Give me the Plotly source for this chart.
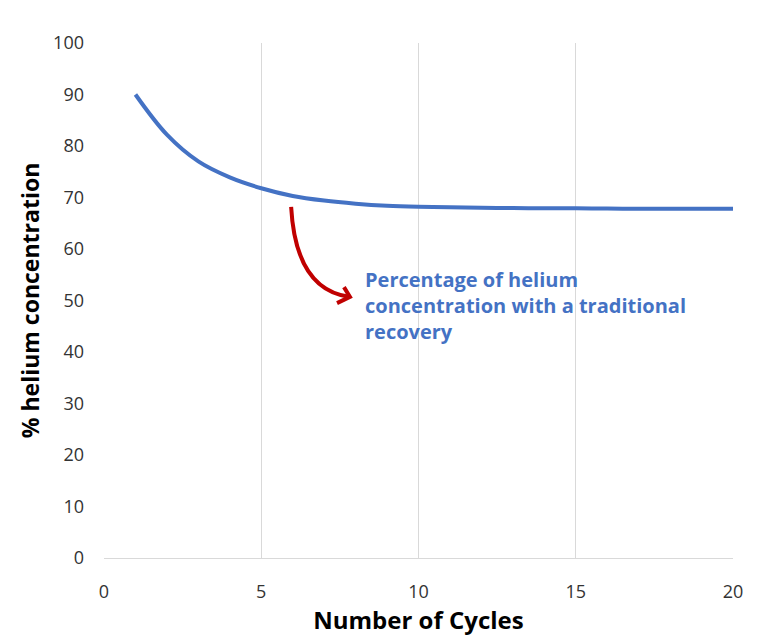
import plotly.graph_objects as go

cycles = list(range(1, 21))
helium_pct = [90, 82.2, 77.0, 73.9, 71.8, 70.3, 69.4, 68.8, 68.4, 68.2,
              68.1, 68.0, 67.95, 67.9, 67.9, 67.85, 67.8, 67.8, 67.8, 67.8]
x_ticks = [0, 5, 10, 15, 20]
y_ticks = list(range(0, 101, 10))
annotation_text = "Percentage of helium<br>concentration with a traditional<br>recovery"

blue = "#4472C4"
red = "#C00000"
grid = "#D9D9D9"

fig = go.Figure()
fig.add_trace(go.Scatter(x=cycles, y=helium_pct, mode="lines",
                         line=dict(color=blue, width=4, shape="spline", smoothing=1.0),
                         showlegend=False, hoverinfo="skip"))

# curved red arrow
fig.add_shape(type="path", xref="x", yref="y",
              path="M 5.95,68.2 Q 6.1,52 7.82,50.7",
              line=dict(color=red, width=4))
fig.add_shape(type="path", xref="x", yref="y",
              path="M 7.63,52.6 L 7.82,50.7 L 7.41,49.5",
              line=dict(color=red, width=4))

fig.add_annotation(x=8.24, y=49.1, xref="x", yref="y", text=annotation_text,
                   showarrow=False, xanchor="left", yanchor="middle", align="left",
                   font=dict(family="Open Sans", size=20, color=blue, weight="bold"))

fig.update_layout(
    width=768, height=641,
    margin=dict(l=96, r=43, t=35, b=91),
    paper_bgcolor="white", plot_bgcolor="white",
    font=dict(family="Open Sans", color="#333333"),
    xaxis=dict(range=[0, 20], tickvals=x_ticks, showgrid=True, gridcolor=grid,
               gridwidth=1, zeroline=False, showline=True, linecolor=grid,
               ticks="", tickfont=dict(size=18), ticklabelstandoff=17,
               title=dict(text="<b>Number of Cycles</b>", font=dict(size=24, color="black"), standoff=5)),
    yaxis=dict(range=[0, 100], tickvals=y_ticks, showgrid=False, zeroline=False,
               showline=False, ticks="", tickfont=dict(size=18), ticklabelstandoff=19,
               title=dict(text="<b>% helium concentration</b>", font=dict(size=23, color="black"), standoff=7)),
)

fig.write_html("out.html")
